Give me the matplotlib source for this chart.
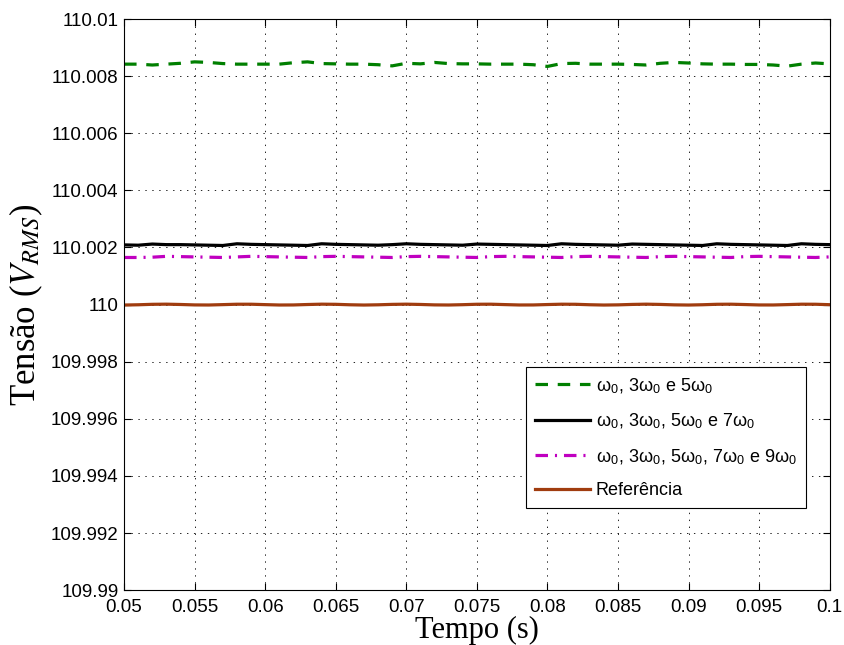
import numpy as np
import matplotlib
matplotlib.use('Agg')
import matplotlib.pyplot as plt

plt.rcParams['mathtext.fontset'] = 'stix'
plt.rcParams['lines.scale_dashes'] = False

# time axis (s), one sample each millisecond
tempo = [0.050, 0.051, 0.052, 0.053, 0.054, 0.055, 0.056, 0.057, 0.058, 0.059,
         0.060, 0.061, 0.062, 0.063, 0.064, 0.065, 0.066, 0.067, 0.068, 0.069,
         0.070, 0.071, 0.072, 0.073, 0.074, 0.075, 0.076, 0.077, 0.078, 0.079,
         0.080, 0.081, 0.082, 0.083, 0.084, 0.085, 0.086, 0.087, 0.088, 0.089,
         0.090, 0.091, 0.092, 0.093, 0.094, 0.095, 0.096, 0.097, 0.098, 0.099,
         0.100]

v_135 = [110.00842, 110.00842, 110.00839, 110.00842, 110.00845, 110.00850, 110.00848, 110.00844, 110.00842, 110.00842,
         110.00842, 110.00842, 110.00847, 110.00850, 110.00844, 110.00843, 110.00842, 110.00842, 110.00840, 110.00836,
         110.00845, 110.00843, 110.00848, 110.00844, 110.00843, 110.00843, 110.00842, 110.00842, 110.00842, 110.00840,
         110.00834, 110.00844, 110.00845, 110.00842, 110.00842, 110.00842, 110.00841, 110.00839, 110.00845, 110.00848,
         110.00846, 110.00843, 110.00842, 110.00842, 110.00841, 110.00841, 110.00839, 110.00835, 110.00842, 110.00846,
         110.00843]

v_1357 = [110.00209, 110.00208, 110.00212, 110.00210, 110.00210, 110.00209, 110.00208, 110.00207, 110.00213, 110.00211,
          110.00210, 110.00209, 110.00208, 110.00207, 110.00213, 110.00211, 110.00210, 110.00209, 110.00208, 110.00210,
          110.00213, 110.00211, 110.00210, 110.00209, 110.00208, 110.00212, 110.00211, 110.00210, 110.00209, 110.00208,
          110.00207, 110.00213, 110.00211, 110.00210, 110.00209, 110.00208, 110.00212, 110.00211, 110.00210, 110.00209,
          110.00208, 110.00207, 110.00213, 110.00211, 110.00210, 110.00209, 110.00208, 110.00207, 110.00213, 110.00211,
          110.00210]

v_13579 = [110.00165, 110.00165, 110.00166, 110.00169, 110.00168, 110.00167, 110.00166, 110.00165, 110.00167, 110.00169,
           110.00168, 110.00167, 110.00166, 110.00165, 110.00168, 110.00169, 110.00168, 110.00167, 110.00166, 110.00165,
           110.00168, 110.00169, 110.00168, 110.00167, 110.00166, 110.00165, 110.00168, 110.00169, 110.00168, 110.00167,
           110.00166, 110.00165, 110.00168, 110.00169, 110.00168, 110.00167, 110.00166, 110.00165, 110.00168, 110.00169,
           110.00168, 110.00167, 110.00166, 110.00165, 110.00168, 110.00169, 110.00168, 110.00167, 110.00166, 110.00165,
           110.00167]

v_ref = [109.999985, 109.999994, 110.000010, 110.000015, 110.000004, 109.999989, 109.999986, 109.999999, 110.000013, 110.000013,
         109.999999, 109.999986, 109.999988, 110.000003, 110.000015, 110.000010, 109.999994, 109.999985, 109.999993, 110.000008,
         110.000015, 110.000005, 109.999990, 109.999986, 109.999997, 110.000012, 110.000014, 110.000000, 109.999987, 109.999988,
         110.000002, 110.000014, 110.000011, 109.999995, 109.999985, 109.999991, 110.000006, 110.000015, 110.000006, 109.999991,
         109.999985, 109.999995, 110.000011, 110.000014, 110.000002, 109.999988, 109.999987, 110.000000, 110.000014, 110.000012,
         109.999997]

labels = [r'ω$_\mathregular{0}$, 3ω$_\mathregular{0}$ e 5ω$_\mathregular{0}$',
          r'ω$_\mathregular{0}$, 3ω$_\mathregular{0}$, 5ω$_\mathregular{0}$ e 7ω$_\mathregular{0}$',
          r'ω$_\mathregular{0}$, 3ω$_\mathregular{0}$, 5ω$_\mathregular{0}$, 7ω$_\mathregular{0}$ e 9ω$_\mathregular{0}$',
          'Referência']

xticks = [0.05, 0.055, 0.06, 0.065, 0.07, 0.075, 0.08, 0.085, 0.09, 0.095, 0.1]
xticklabels = ['0.05', '0.055', '0.06', '0.065', '0.07', '0.075', '0.08', '0.085', '0.09', '0.095', '0.1']
yticks = [109.99, 109.992, 109.994, 109.996, 109.998, 110, 110.002, 110.004, 110.006, 110.008, 110.01]
yticklabels = ['109.99', '109.992', '109.994', '109.996', '109.998', '110', '110.002', '110.004', '110.006', '110.008', '110.01']

fig = plt.figure(figsize=(8.44, 6.45), dpi=100)
ax = fig.add_axes([0.147, 0.085, 0.836, 0.8855])

lw = 2.3
ax.plot(tempo, v_135, color='#007f00', lw=lw, dashes=(9, 7), label=labels[0])
ax.plot(tempo, v_1357, color='black', lw=lw, label=labels[1])
ax.plot(tempo, v_13579, color='#c000c0', lw=lw, dashes=(9, 5, 1.5, 5), label=labels[2])
ax.plot(tempo, v_ref, color='#a03c0f', lw=lw, label=labels[3])

ax.set_xlim(0.05, 0.1)
ax.set_ylim(109.99, 110.01)
ax.set_xticks(xticks)
ax.set_xticklabels(xticklabels, family='Liberation Sans', fontsize=13.5)
ax.set_yticks(yticks)
ax.set_yticklabels(yticklabels, family='Liberation Sans', fontsize=13.5)
ax.tick_params(direction='in', length=5, width=0.8, top=True, right=True)
ax.tick_params(axis='x', pad=6)
ax.tick_params(axis='y', pad=4)
ax.grid(True, color='black', linestyle=(0, (1, 4)), linewidth=0.6)
for s in ax.spines.values():
    s.set_linewidth(0.8)

ax.set_xlabel('Tempo (s)', family='Liberation Serif', fontsize=22, labelpad=0)
ax.set_ylabel(r'Tensão ($V_{RMS}$)', family='Liberation Serif', fontsize=25, labelpad=4)

leg = ax.legend(loc='lower right', bbox_to_anchor=(0.967, 0.144), borderaxespad=0,
                prop={'family': 'Liberation Sans', 'size': 13}, handlelength=3.0,
                fancybox=False, framealpha=1, edgecolor='black',
                borderpad=0.5, labelspacing=0.9, handletextpad=0.35)
leg.get_frame().set_linewidth(0.8)

fig.savefig('out.png', dpi=100)
